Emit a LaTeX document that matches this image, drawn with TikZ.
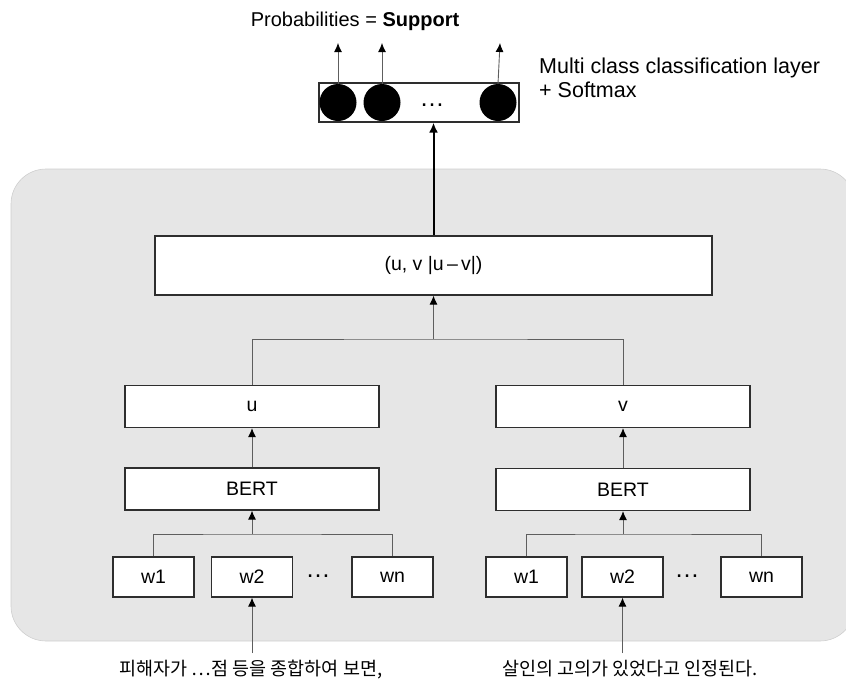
\documentclass[tikz,border=0pt]{standalone}
\usepackage{fontspec}
\setmainfont{Liberation Sans}
\newfontfamily\kr{Noto Sans CJK KR}
\usetikzlibrary{arrows.meta}
\definecolor{panel}{HTML}{E6E6E6}
\definecolor{panelline}{HTML}{CFCFCF}
\definecolor{boxline}{HTML}{2E2E2E}
\definecolor{wire}{HTML}{5E5E5E}
\tikzset{
  lbl/.style={font=\fontsize{19.5}{22}\selectfont, inner sep=0pt},
  dotlbl/.style={font=\fontsize{25}{26}\selectfont, inner sep=0pt},
  blk/.style={draw=boxline, line width=1.2pt, fill=white, lbl},
  wordbox/.style={blk, minimum width=81, minimum height=40},
  encbox/.style={blk, minimum width=254, minimum height=42},
  neuron/.style={circle, fill=black, minimum size=37, inner sep=0pt},
  wirearrow/.style={draw=wire, line width=0.9pt, -{Latex[length=9,width=8,color=black]}},
  busline/.style={draw=wire, line width=0.9pt},
  sentence/.style={anchor=base, inner sep=0pt, font=\kr\fontsize{18.5}{22}\selectfont},
}
\begin{document}
\begin{tikzpicture}[x=1pt, y=-1pt]
\useasboundingbox (0,0) rectangle (846,683);

% shaded background panel (runs past the right edge)
\fill[panel, draw=panelline, line width=0.6pt, rounded corners=35] (11,169) rectangle (855,641);

% classification layer with output units
\node[blk, minimum width=200, minimum height=39] (cls) at (419,102.5) {};
\node[neuron] (n1) at (338,102.5) {};
\node[neuron] (n2) at (382,102.5) {};
\node[neuron] (n3) at (498,102.5) {};
\node[dotlbl] (clsdots) at (432,105) {…};
\coordinate (o1) at (338,43);
\coordinate (o2) at (382,43);
\coordinate (o3) at (500,43);
\draw[wirearrow] (n1.north) -- (o1);
\draw[wirearrow] (n2.north) -- (o2);
\draw[wirearrow] (n3.north) -- (o3);

\node[lbl, anchor=base, font=\fontsize{20}{24}\selectfont] (prob) at (355,26) {Probabilities = \textbf{Support}};
\node[lbl, anchor=base west, align=left, font=\fontsize{21.5}{24}\selectfont] (clsname) at (539,97)
  {Multi class classification layer\\+ Softmax};

% concatenation block
\node[blk, minimum width=557, minimum height=59] (uv) at (433.5,265.5) {(u, v |u\,–\,v|)};
\draw[line width=2pt, -{Latex[length=10,width=9]}] (uv.north) -- (uv.north |- cls.south);

% sentence embeddings
\node[encbox] (u) at (252,406.5) {u};
\node[encbox] (v) at (623,406.5) {v};
\coordinate (mrg) at (433.5,339);
\draw[busline] (u.north) |- (mrg) -| (v.north);
\draw[wirearrow] (mrg) -- (uv.south);

% encoders
\node[encbox] (bertA) at (252,489) {BERT};
\node[encbox] (bertB) at (623,489.5) {BERT};
\draw[wirearrow] (bertA.north) -- (u.south);
\draw[wirearrow] (bertB.north) -- (v.south);

% left token row
\node[wordbox] (a1) at (153.5,577) {w1};
\node[wordbox] (a2) at (252,577) {w2};
\node[wordbox] (an) at (392.5,577) {wn};
\node[dotlbl] (adots) at (318,576) {…};
\coordinate (ja) at (252,534);
\draw[busline] (a1.north) |- (ja) -| (an.north);
\draw[wirearrow] (ja) -- (bertA.south);

% right token row
\node[wordbox] (b1) at (526.5,577) {w1};
\node[wordbox] (b2) at (622.5,577) {w2};
\node[wordbox] (bn) at (761.5,577) {wn};
\node[dotlbl] (bdots) at (687,576) {…};
\coordinate (jb) at (623,534);
\draw[busline] (b1.north) |- (jb) -| (bn.north);
\draw[wirearrow] (jb) -- (bertB.south);

% input sentences
\coordinate (ina) at (252,653);
\coordinate (inb) at (622.5,653);
\draw[wirearrow] (ina) -- (a2.south);
\draw[wirearrow] (inb) -- (b2.south);
\node[sentence] (sa) at (251,675) {피해자가 …점 등을 종합하여 보면,};
\node[sentence] (sb) at (630,675) {살인의 고의가 있었다고 인정된다.};
\end{tikzpicture}
\end{document}
